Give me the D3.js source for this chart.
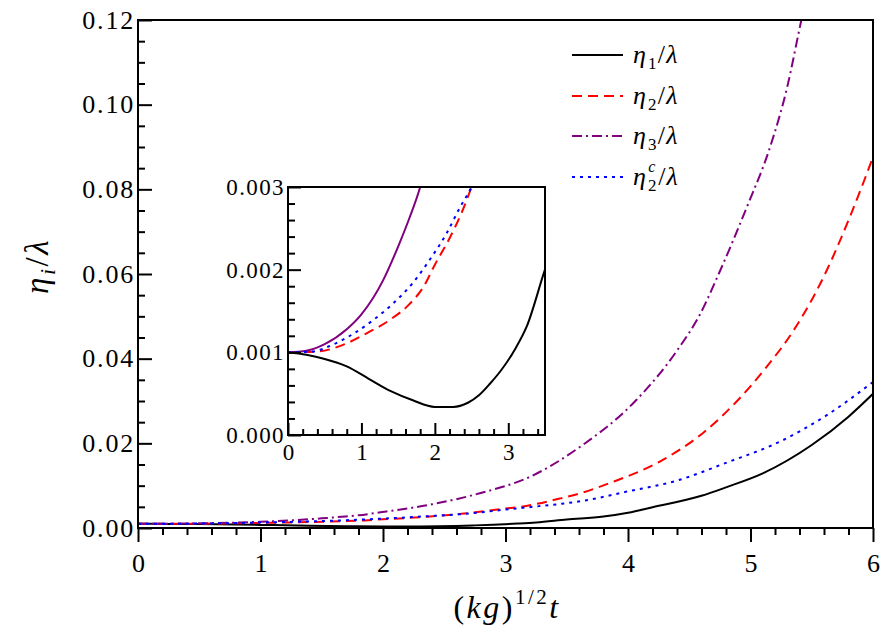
<!DOCTYPE html>
<html><head><meta charset="utf-8">
<script src="https://cdn.jsdelivr.net/npm/d3@7"></script>
<style>body{margin:0;background:#fff} svg{display:block} text{font-family:"Liberation Serif","DejaVu Serif","Noto Serif","Times New Roman",Times,serif;}</style>
</head><body><svg id="c" width="892" height="634"></svg>
<script>
// ---- data ----
const eta1T = [0,0.25,0.5,0.8,1.1,1.4,1.7,2.0,2.25,2.45,2.6,2.75,2.9,3.1,3.25,3.5,3.8,4.0,4.2,4.6,4.8,5.1,5.5,5.8,6.0];
const eta1V = [0.001,0.00097,0.00092,0.00083,0.00068,0.00053,0.00042,0.00034,0.00034,0.00039,0.00048,0.00062,0.00078,0.00105,0.00131,0.0020,0.0027,0.0036,0.0049,0.0076,0.0096,0.0129,0.0196,0.0263,0.0317];
const eta2T = [0,0.4,0.75,1.07,1.4,1.65,1.85,2.0,2.2,2.36,2.5,2.66,3.0,3.12,3.45,3.61,3.85,4.26,4.61,4.91,5.13,5.35,5.6,5.81,6.0];
const eta2V = [0.001,0.00101,0.00109,0.00123,0.0014,0.00158,0.0018,0.00206,0.00238,0.00268,0.0030,0.0034,0.0046,0.0050,0.0070,0.0082,0.0106,0.0157,0.0224,0.0306,0.0380,0.0466,0.0595,0.0734,0.0876];
const eta3T = [0,0.25,0.5,0.8,1.0,1.3,1.5,1.66,1.8,1.98,2.4,2.79,3.2,3.61,4.07,4.4,4.59,4.74,4.97,5.16,5.3,5.41,5.46];
const eta3V = [0.001,0.00102,0.0011,0.00128,0.00146,0.00188,0.00228,0.00264,0.0030,0.0037,0.0056,0.0082,0.0121,0.0192,0.0303,0.0419,0.0506,0.0600,0.0758,0.0900,0.1042,0.1193,0.126];
const eta2cT = [0,0.34,0.6,0.9,1.16,1.43,1.7,1.93,2.16,2.34,2.5,2.8,2.98,3.45,3.61,3.99,4.4,4.81,5.24,5.62,5.95,6.0];
const eta2cV = [0.001,0.00101,0.00109,0.00123,0.00139,0.00159,0.00184,0.00212,0.00244,0.00275,0.0030,0.0037,0.0043,0.0057,0.0063,0.0086,0.0112,0.0155,0.0204,0.0266,0.0334,0.0345];

const mainXTicks = [0,1,2,3,4,5,6];
const mainYTicks = [0,0.02,0.04,0.06,0.08,0.10,0.12];
const insetXTicks = [0,1,2,3];
const insetYTicks = [0,0.001,0.002,0.003];

const series = [
  {t:eta1T, v:eta1V, color:'#000000', dash:null, insetDash:null, name:'η', sub:'1', sup:null},
  {t:eta2T, v:eta2V, color:'#ff0000', dash:'10,6', insetDash:'10,6', name:'η', sub:'2', sup:null},
  {t:eta3T, v:eta3V, color:'#800080', dash:'10,4,2,4', insetDash:null, name:'η', sub:'3', sup:null},
  {t:eta2cT, v:eta2cV, color:'#0000ff', dash:'3,5', insetDash:'3,5', name:'η', sub:'2', sup:'c'}
];

const svg = d3.select('#c');

// ---- main plot ----
const M = {l:138, r:873, t:20, b:528};
const x = d3.scaleLinear().domain([0,6]).range([M.l, M.r]);
const y = d3.scaleLinear().domain([0,0.12]).range([M.b, M.t]);

svg.append('clipPath').attr('id','mainClip').append('rect')
  .attr('x',M.l).attr('y',M.t).attr('width',M.r-M.l).attr('height',M.b-M.t);

const line = (sx, sy) => d3.line().x(d=>sx(d[0])).y(d=>sy(d[1])).curve(d3.curveMonotoneX);

const gMain = svg.append('g').attr('clip-path','url(#mainClip)');
series.forEach(s => {
  const pts = s.t.map((t,i)=>[t,s.v[i]]);
  gMain.append('path').attr('d', line(x,y)(pts)).attr('fill','none')
    .attr('stroke', s.color).attr('stroke-width',2)
    .attr('stroke-dasharray', s.dash);
});

function styleAxis(g, fs, ls){
  g.select('.domain').remove();
  g.selectAll('line').attr('stroke','#000').attr('stroke-width',2);
  g.attr('font-family',null);
  g.selectAll('text').style('font-size',fs+'px').attr('fill','#000')
    .attr('letter-spacing', ls || 0);
}

const minorX = d3.range(0, 6.0001, 0.2).filter(v => Math.abs(v-Math.round(v))>1e-6);
const minorY = d3.range(0, 0.12001, 0.005).filter(v => Math.abs(v/0.02-Math.round(v/0.02))>1e-6);

styleAxis(svg.append('g').attr('transform',`translate(0,${M.b})`)
  .call(d3.axisBottom(x).tickValues(mainXTicks).tickSize(14).tickPadding(12).tickFormat(d3.format('d'))), 26);
styleAxis(svg.append('g').attr('transform',`translate(0,${M.b})`)
  .call(d3.axisBottom(x).tickValues(minorX).tickSize(7).tickFormat('')), 26);
styleAxis(svg.append('g').attr('transform',`translate(${M.l},0)`)
  .call(d3.axisLeft(y).tickValues(mainYTicks).tickSize(-14).tickPadding(3).tickFormat(d3.format('.2f'))), 26, 1.8);
styleAxis(svg.append('g').attr('transform',`translate(${M.l},0)`)
  .call(d3.axisLeft(y).tickValues(minorY).tickSize(-7).tickFormat('')), 26);

svg.append('rect').attr('x',M.l).attr('y',M.t).attr('width',M.r-M.l).attr('height',M.b-M.t)
  .attr('fill','none').attr('stroke','#000').attr('stroke-width',2);

// ---- inset ----
const I = {l:288, r:545, t:187, b:435};
const xi = d3.scaleLinear().domain([0,3.5]).range([I.l, I.r]);
const yi = d3.scaleLinear().domain([0,0.003]).range([I.b, I.t]);
svg.append('rect').attr('x',I.l).attr('y',I.t).attr('width',I.r-I.l).attr('height',I.b-I.t).attr('fill','#fff');
svg.append('clipPath').attr('id','insetClip').append('rect')
  .attr('x',I.l).attr('y',I.t).attr('width',I.r-I.l).attr('height',I.b-I.t);
const gIn = svg.append('g').attr('clip-path','url(#insetClip)');
series.forEach(s => {
  const pts = s.t.map((t,i)=>[t,s.v[i]]);
  gIn.append('path').attr('d', line(xi,yi)(pts)).attr('fill','none')
    .attr('stroke', s.color).attr('stroke-width',2)
    .attr('stroke-dasharray', s.insetDash);
});
const minorXi = d3.range(0, 3.5001, 0.2).filter(v => Math.abs(v-Math.round(v))>1e-6);
const minorYi = d3.range(0, 0.003001, 0.0002).filter(v => Math.abs(v/0.001-Math.round(v/0.001))>1e-6);
styleAxis(svg.append('g').attr('transform',`translate(0,${I.b})`)
  .call(d3.axisBottom(xi).tickValues(insetXTicks).tickSize(-12).tickPadding(9).tickFormat(d3.format('d'))), 23);
styleAxis(svg.append('g').attr('transform',`translate(0,${I.b})`)
  .call(d3.axisBottom(xi).tickValues(minorXi).tickSize(-6).tickFormat('')), 23);
styleAxis(svg.append('g').attr('transform',`translate(${I.l},0)`)
  .call(d3.axisLeft(yi).tickValues(insetYTicks).tickSize(-13).tickPadding(3).tickFormat(d3.format('.3f'))), 23, 1.4);
styleAxis(svg.append('g').attr('transform',`translate(${I.l},0)`)
  .call(d3.axisLeft(yi).tickValues(minorYi).tickSize(-7).tickFormat('')), 23);
svg.append('rect').attr('x',I.l).attr('y',I.t).attr('width',I.r-I.l).attr('height',I.b-I.t)
  .attr('fill','none').attr('stroke','#000').attr('stroke-width',2);

// ---- legend ----
const legRows = [55, 96, 136, 177];
series.forEach((s,i) => {
  const ly = legRows[i];
  svg.append('line').attr('x1',572).attr('x2',623).attr('y1',ly).attr('y2',ly)
    .attr('stroke',s.color).attr('stroke-width',2).attr('stroke-dasharray',s.dash);
  const tx = svg.append('text').attr('x',633).attr('y',ly+8)
    .style('font-size','26px').attr('fill','#000').attr('letter-spacing',1.2);
  tx.append('tspan').attr('font-style','italic').text(s.name);
  tx.append('tspan').style('font-size','17px').attr('dy',6).attr('dx',1).text(s.sub);
  if (s.sup) {
    tx.append('tspan').style('font-size','16px').attr('font-style','italic').attr('dx',-9.5).attr('dy',-19).text(s.sup);
    tx.append('tspan').attr('dx',1.5).attr('dy',13).text('/');
  } else {
    tx.append('tspan').attr('dy',-6).text('/');
  }
  tx.append('tspan').attr('font-style','italic').text('λ');
});

// ---- axis titles ----
const xt = svg.append('text').attr('x',507).attr('y',618).attr('text-anchor','middle')
  .style('font-size','32px').attr('fill','#000').attr('letter-spacing',2.5);
xt.append('tspan').text('(');
xt.append('tspan').attr('font-style','italic').text('kg');
xt.append('tspan').text(')');
xt.append('tspan').style('font-size','21px').attr('dy',-14).text('1/2');
xt.append('tspan').attr('font-style','italic').attr('dy',14).text('t');

const yt = svg.append('text').attr('transform','translate(48,266) rotate(-90)').attr('text-anchor','middle')
  .style('font-size','33px').attr('fill','#000').attr('letter-spacing',2.5);
yt.append('tspan').attr('font-style','italic').text('η');
yt.append('tspan').attr('font-style','italic').style('font-size','22px').attr('dy',7).text('i');
yt.append('tspan').attr('dy',-7).text('/');
yt.append('tspan').attr('font-style','italic').text('λ');
</script></body></html>
